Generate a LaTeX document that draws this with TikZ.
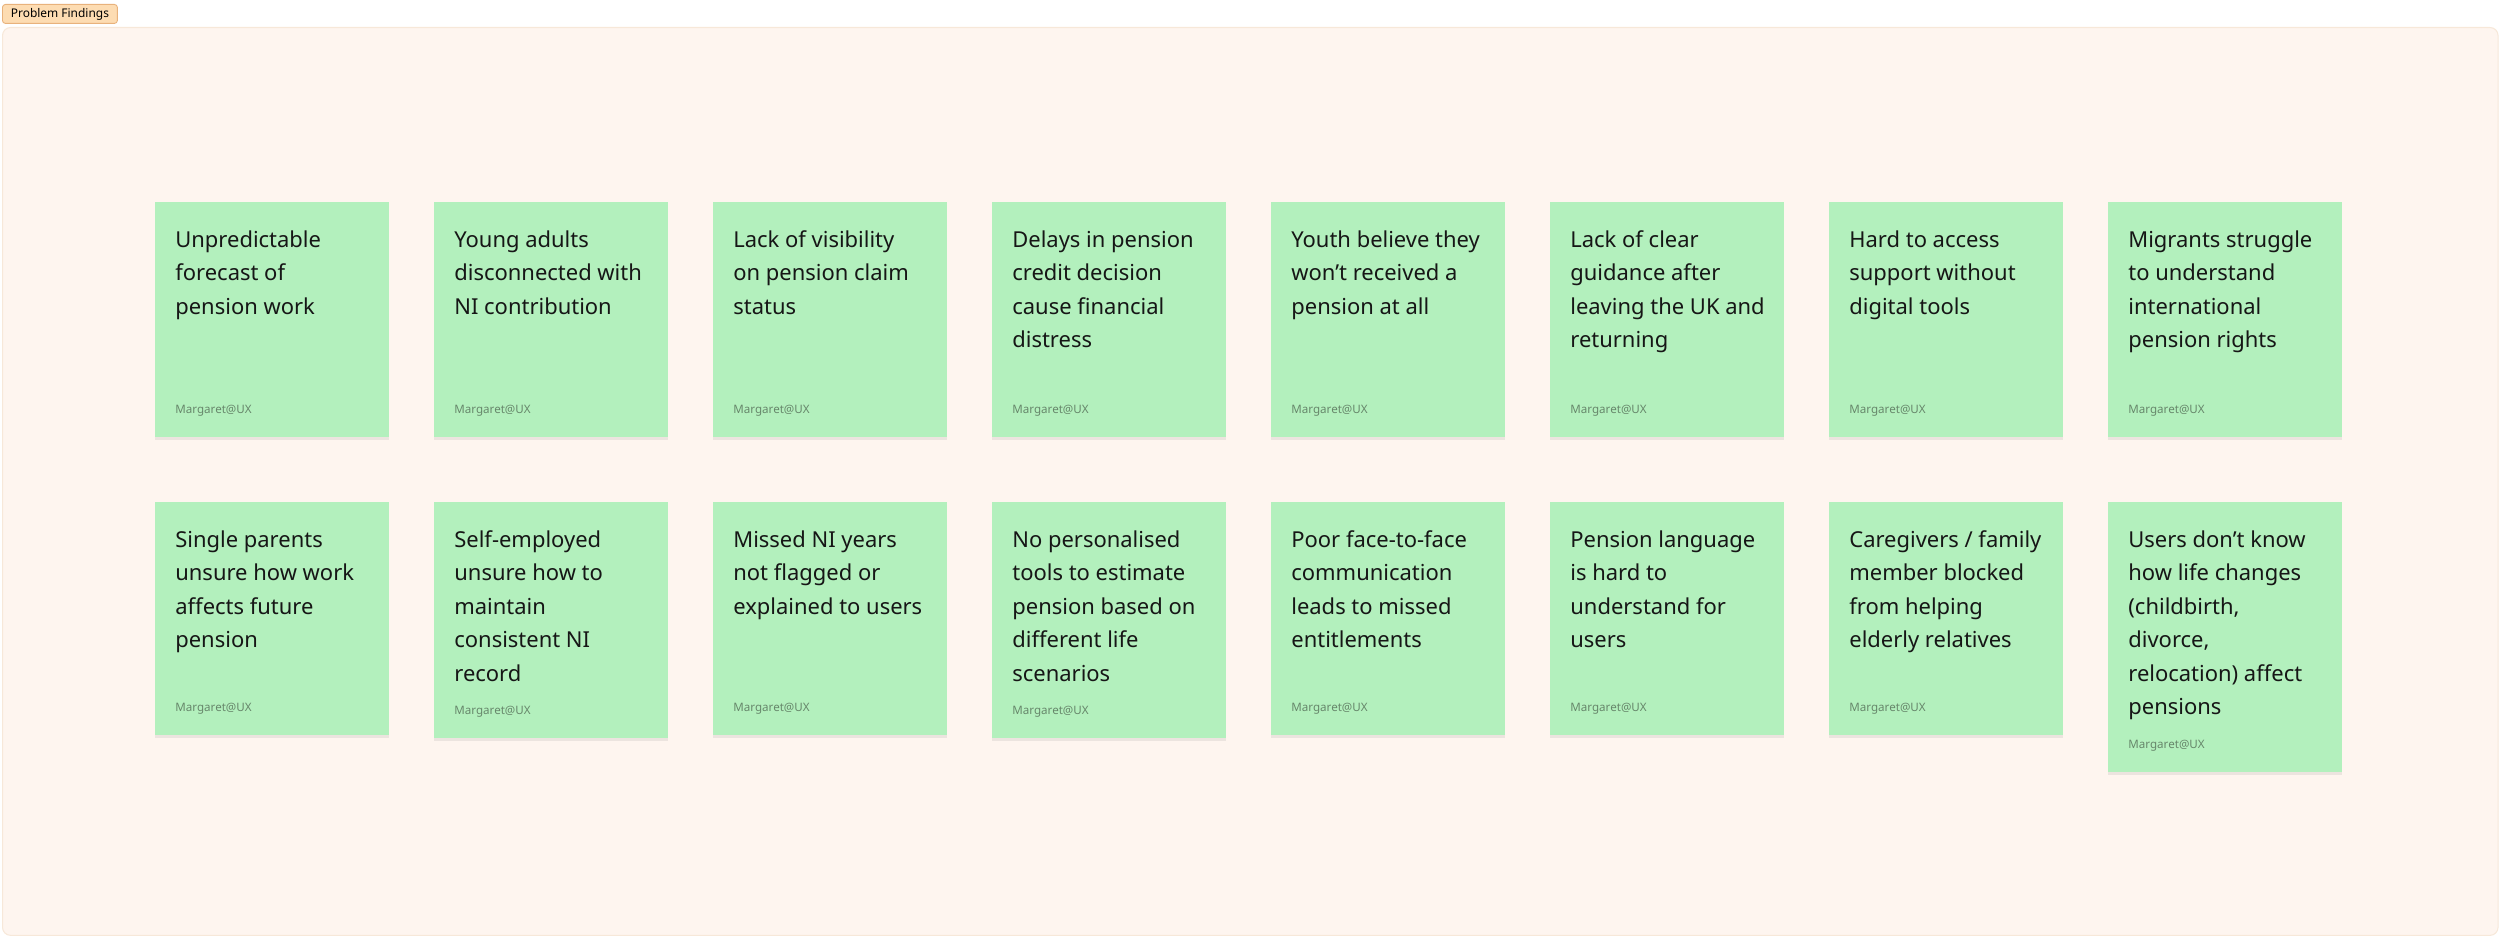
\documentclass[tikz,border=0pt]{standalone}
\usepackage{fontspec}
\setmainfont{Noto Sans}
\usetikzlibrary{positioning,shadows}

\definecolor{boardfill}{HTML}{FEF5EF}
\definecolor{boardline}{HTML}{F7E8D9}
\definecolor{tagfill}{HTML}{FDDCB2}
\definecolor{tagline}{HTML}{E8B27C}
\definecolor{notefill}{HTML}{B3F0BD}
\definecolor{notetext}{HTML}{161616}
\definecolor{noteby}{HTML}{67876B}

\tikzset{
    board/.style={draw=boardline, line width=0.6pt, fill=boardfill, rounded corners=0.16cm,
        anchor=north west, minimum width=49.92cm, minimum height=18.16cm, inner sep=0pt},
    tag/.style={draw=tagline, line width=0.5pt, fill=tagfill, rounded corners=0.06cm,
        anchor=north west, minimum width=2.3cm, minimum height=0.38cm, inner sep=0pt,
        font=\fontsize{6.8pt}{8pt}\selectfont, text=black},
    card/.style={fill=notefill, anchor=north west, minimum width=4.68cm, inner sep=0pt,
        drop shadow={shadow xshift=0pt, shadow yshift=-1.6pt, opacity=0.14}},
    cardtext/.style={anchor=north west, inner sep=0pt, align=left, text=notetext,
        font=\fontsize{12.5pt}{19.07pt}\selectfont},
    cardby/.style={anchor=west, inner sep=0pt, text=noteby,
        font=\fontsize{6.6pt}{8pt}\selectfont}
}

% name, x, y, text; optional height in px
\newcommand{\sticky}[5][234]{%
    \node[card, minimum height=#1*0.02cm] (#2) at (#3,#4) {};
    \node[cardtext] (#2-text) at ([shift={(20,28)}]#2.north west) {#5};
    \node[cardby] (#2-by) at ([shift={(20,-27)}]#2.south west) {Margaret@UX};
}

\begin{document}
\begin{tikzpicture}[x=0.02cm, y=-0.02cm]
    \useasboundingbox (0,0) rectangle (2500,939);
    \node[board] (board) at (2,27) {};
    \node[tag] (title) at (2,4) {Problem Findings};

    \sticky[235]{r1c1}{155}{202}{Unpredictable\\forecast of\\pension work}
    \sticky[235]{r1c2}{434}{202}{Young adults\\disconnected with\\NI contribution}
    \sticky[235]{r1c3}{713}{202}{Lack of visibility\\on pension claim\\status}
    \sticky[235]{r1c4}{992}{202}{Delays in pension\\credit decision\\cause financial\\distress}
    \sticky[235]{r1c5}{1271}{202}{Youth believe they\\won’t received a\\pension at all}
    \sticky[235]{r1c6}{1550}{202}{Lack of clear\\guidance after\\leaving the UK and\\returning}
    \sticky[235]{r1c7}{1829}{202}{Hard to access\\support without\\digital tools}
    \sticky[235]{r1c8}{2108}{202}{Migrants struggle\\to understand\\international\\pension rights}

    \sticky[233]{r2c1}{155}{502}{Single parents\\unsure how work\\affects future\\pension}
    \sticky[236]{r2c2}{434}{502}{Self-employed\\unsure how to\\maintain\\consistent NI\\record}
    \sticky[233]{r2c3}{713}{502}{Missed NI years\\not flagged or\\explained to users}
    \sticky[236]{r2c4}{992}{502}{No personalised\\tools to estimate\\pension based on\\different life\\scenarios}
    \sticky[233]{r2c5}{1271}{502}{Poor face-to-face\\communication\\leads to missed\\entitlements}
    \sticky[233]{r2c6}{1550}{502}{Pension language\\is hard to\\understand for\\users}
    \sticky[233]{r2c7}{1829}{502}{Caregivers / family\\member blocked\\from helping\\elderly relatives}
    \sticky[270]{r2c8}{2108}{502}{Users don’t know\\how life changes\\(childbirth,\\divorce,\\relocation) affect\\pensions}
\end{tikzpicture}
\end{document}
